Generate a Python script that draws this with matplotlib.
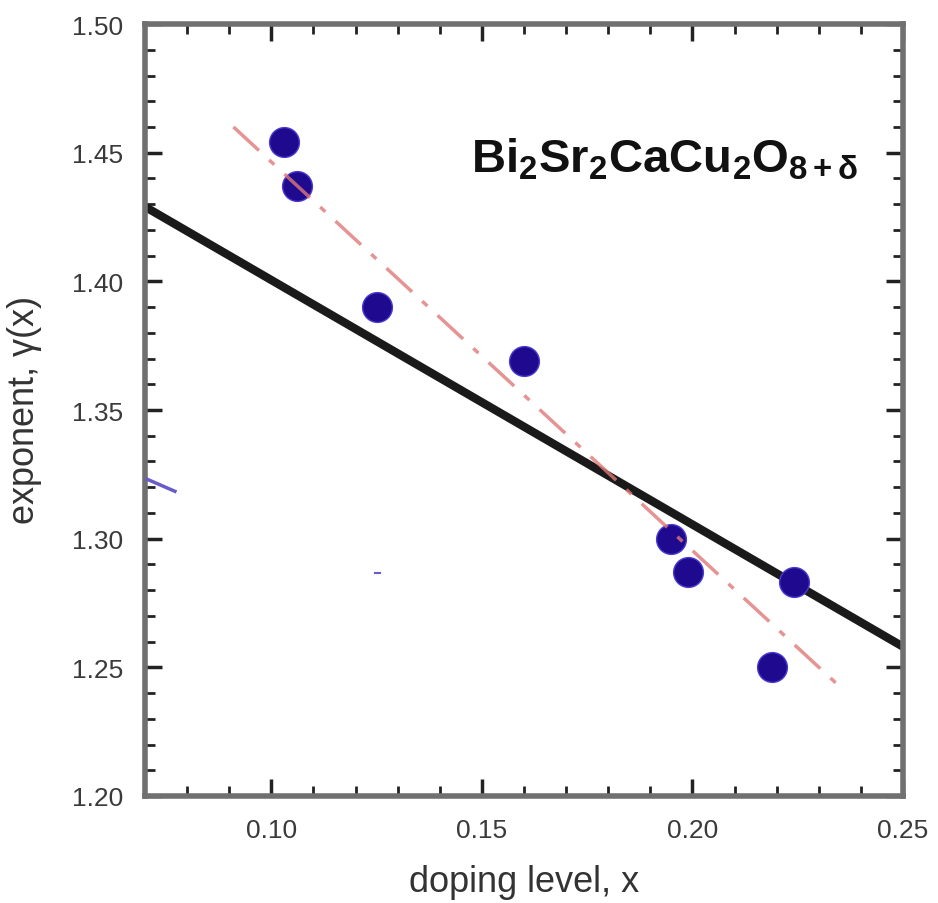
import matplotlib
matplotlib.use('Agg')
import matplotlib.pyplot as plt
from matplotlib.ticker import MultipleLocator
import numpy as np

plt.rcParams['font.family'] = ['Liberation Sans', 'DejaVu Sans']
plt.rcParams['mathtext.fontset'] = 'custom'
plt.rcParams['mathtext.rm'] = 'Liberation Sans'
plt.rcParams['mathtext.it'] = 'Liberation Sans'
plt.rcParams['mathtext.bf'] = 'Liberation Sans:bold'

# measured points
doping = [0.103, 0.106, 0.125, 0.160, 0.195, 0.199, 0.219, 0.224]
gamma = [1.454, 1.437, 1.390, 1.369, 1.300, 1.287, 1.250, 1.283]

# fit lines (end points)
fit_x = [0.07, 0.25]
fit_y = [1.429, 1.258]
guide_x = [0.091, 0.234]
guide_y = [1.460, 1.244]

# stray blue marks in the scan
stray_x = [0.0705, 0.0771]
stray_y = [1.3231, 1.3184]

fig = plt.figure(figsize=(9.38, 9.04), dpi=100)
ax = fig.add_axes([0.1546, 0.1184, 0.8081, 0.8539])

ax.plot(fit_x, fit_y, color='#1a1a1a', lw=6, zorder=2, solid_capstyle='butt')
ax.scatter(doping, gamma, s=460, color='#1f0a8f', edgecolors='#4a3ad0', linewidths=1, zorder=3)
ax.plot(guide_x, guide_y, color='#e07878', lw=2.5, alpha=0.8, zorder=4,
        dashes=(10, 4, 2, 4))
ax.plot(stray_x, stray_y, color='#6a5cc8', lw=2.5, zorder=4)
ax.plot([0.1245, 0.1258], [1.2865, 1.2865], color='#6a5cc8', lw=1.5, zorder=4)

ax.set_xlim(0.07, 0.25)
ax.set_ylim(1.20, 1.50)
ax.xaxis.set_minor_locator(MultipleLocator(0.01))
ax.yaxis.set_minor_locator(MultipleLocator(0.01))
ax.set_xticks([0.10, 0.15, 0.20, 0.25])
ax.set_xticklabels(['0.10', '0.15', '0.20', '0.25'])
ax.set_yticks([1.20, 1.25, 1.30, 1.35, 1.40, 1.45, 1.50])
ax.set_yticklabels(['1.20', '1.25', '1.30', '1.35', '1.40', '1.45', '1.50'])

ax.tick_params(which='both', direction='in', top=True, right=True, colors='#222222',
               labelcolor='#3a3a3a', labelsize=19)
ax.tick_params(which='major', length=12, width=2.5, pad=16)
ax.tick_params(which='minor', length=7, width=2)
for s in ax.spines.values():
    s.set_color('#707070')
    s.set_linewidth(4)

ax.set_xlabel('doping level, x', fontsize=26, color='#333333', labelpad=16)
ax.set_ylabel(r'exponent, $\gamma$(x)', fontsize=26, color='#333333', labelpad=20)

ax.text(0.43, 0.825, r'$\mathbf{Bi_2Sr_2CaCu_2O_{8+\delta}}$', transform=ax.transAxes,
        fontsize=34, color='#111111', ha='left', va='center')

fig.savefig('out.png', dpi=100, facecolor='white')
